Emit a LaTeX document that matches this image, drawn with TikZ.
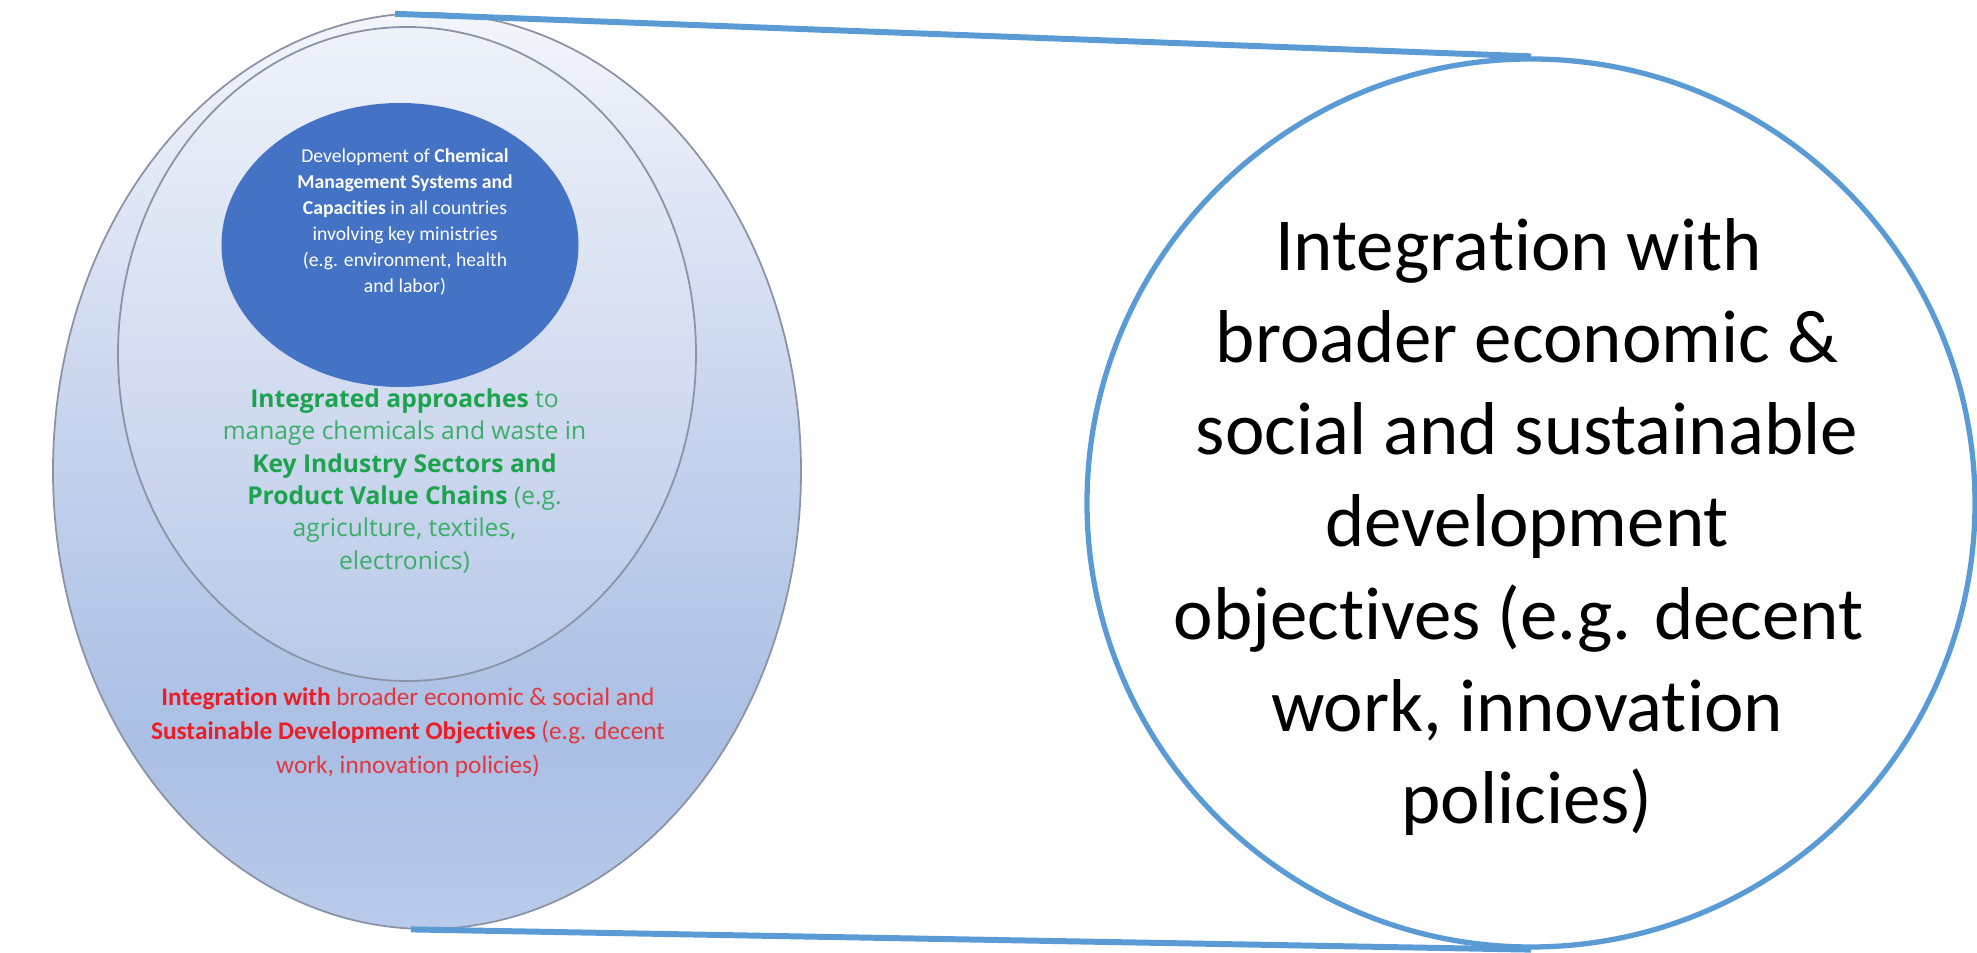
\documentclass[tikz,border=0pt]{standalone}
\usepackage{fontspec}
\setmainfont{Carlito}[Ligatures=NoCommon]
\newfontfamily\osans{Open Sans}
\usetikzlibrary{shapes.geometric}

\definecolor{rimgray}{HTML}{8A93A6}
\definecolor{coreblue}{HTML}{4472C4}
\definecolor{zoomblue}{HTML}{5B9BD5}
\definecolor{grnreg}{HTML}{3AAE68}
\definecolor{grnbold}{HTML}{1CA34E}
\definecolor{redreg}{HTML}{E2363E}
\definecolor{redbold}{HTML}{EE1C25}
\definecolor{outA}{HTML}{BACBEA}
\definecolor{outB}{HTML}{AABFE4}
\definecolor{outC}{HTML}{C6D3ED}
\definecolor{outD}{HTML}{F3F5FB}
\definecolor{midA}{HTML}{B8C9E8}
\definecolor{midB}{HTML}{D3DCF0}
\definecolor{midC}{HTML}{EEF2F9}

% vertical fills: 25bp = bottom of the shape, 75bp = top
\pgfdeclareverticalshading{outerfill}{100bp}{%
  color(0bp)=(outA); color(25bp)=(outA); color(35bp)=(outB);
  color(52bp)=(outC); color(75bp)=(outD); color(100bp)=(outD)}
\pgfdeclareverticalshading{middlefill}{100bp}{%
  color(0bp)=(midA); color(25bp)=(midA); color(48bp)=(midB);
  color(75bp)=(midC); color(100bp)=(midC)}

\newcommand{\tsp}{\hphantom{\ }}% keeps a trailing space in a centred line

\tikzset{
  ring/.style={ellipse, draw=rimgray, line width=0.5pt, inner sep=0pt},
  connector/.style={draw=zoomblue, line width=1.7pt},
}

\begin{document}
\begin{tikzpicture}
\useasboundingbox (0,0) rectangle (19.77,9.53);

% nested ellipses
\node[ring, shading=outerfill, minimum width=7.48cm, minimum height=9.16cm]
  (outer) at (4.27,4.82) {};
\node[ring, shading=middlefill, minimum width=5.78cm, minimum height=6.54cm]
  (middle) at (4.07,5.99) {};
\node[ellipse, fill=coreblue, inner sep=0pt, minimum width=3.57cm, minimum height=2.84cm]
  (core) at (4.00,7.08) {};

% texts of the rings
\node[text=white, align=center, font=\fontsize{5.6}{7.4}\selectfont]
  (coretext) at (4.05,7.31) {Development of \textbf{Chemical}\\
  \textbf{Management Systems and}\\
  \textbf{Capacities} in all countries\\
  involving key ministries\\
  (e.g. environment, health\\
  and labor)};

\node[text=grnreg, align=center, font=\osans\fontsize{7.0}{9.2}\selectfont]
  (midtext) at (4.045,4.72) {\textcolor{grnbold}{\textbf{Integrated approaches}} to\\
  manage chemicals and waste in\\
  \textcolor{grnbold}{\textbf{Key Industry Sectors and}}\\
  \textcolor{grnbold}{\textbf{Product Value Chains}} (e.g.\\
  agriculture, textiles,\\
  electronics)};

\node[text=redreg, align=center, font=\fontsize{7.2}{9.7}\selectfont]
  (outtext) at (4.08,2.20) {\textcolor{redbold}{\textbf{Integration with}} broader economic \& social and\\
  \textcolor{redbold}{\textbf{Sustainable Development Objectives}} (e.g. decent\\
  work, innovation policies)};

% magnified circle
\node[circle, draw=zoomblue, line width=1.5pt, fill=white, minimum size=8.88cm, inner sep=0pt]
  (zoom) at (15.31,4.50) {};
\node[align=center, font=\fontsize{21.3}{26.2}\selectfont]
  (zoomtext) at (15.27,4.26) {Integration with\tsp\\
  broader economic \&\\
  social and sustainable\\
  development\\
  objectives (e.g. decent\tsp\\
  work, innovation\\
  policies)};

% connectors
\draw[connector] (outer.94) -- (zoom.north);
\draw[connector] (outer.268) -- (zoom.south);
\end{tikzpicture}
\end{document}
